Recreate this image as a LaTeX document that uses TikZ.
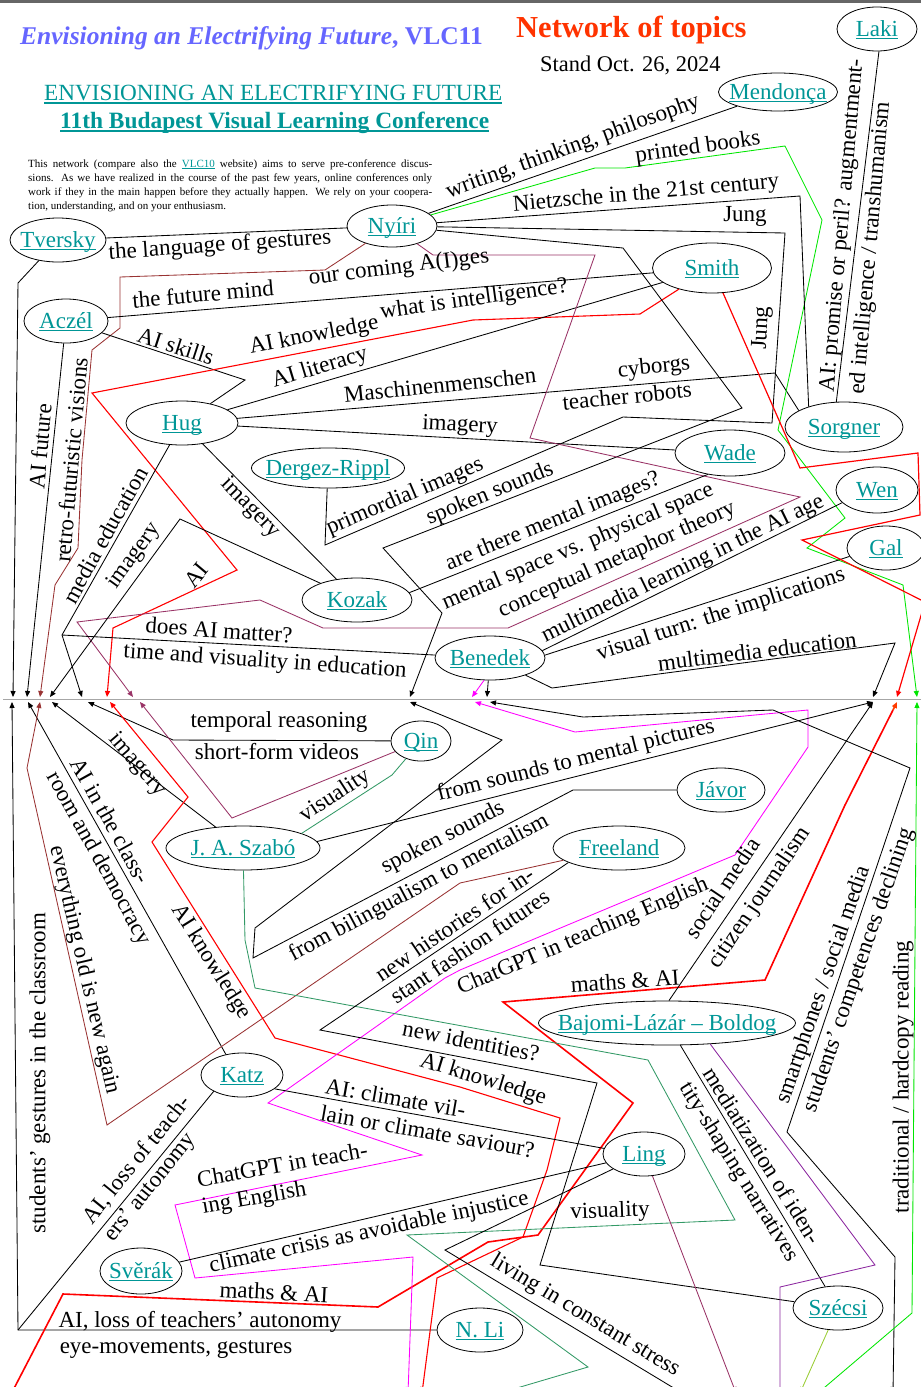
\documentclass[tikz,border=0pt]{standalone}
\usepackage{fontspec}
\setmainfont{Liberation Serif}
\usetikzlibrary{shapes.geometric,arrows.meta}
\definecolor{tealc}{RGB}{0,150,150}
\definecolor{titleblue}{RGB}{102,102,255}
\definecolor{titlered}{RGB}{255,51,0}
\definecolor{brownc}{RGB}{153,51,51}
\definecolor{plumc}{RGB}{153,51,102}
\definecolor{dgreenc}{RGB}{51,153,102}
\definecolor{greenc}{RGB}{0,230,0}
\definecolor{magc}{RGB}{255,0,255}
\definecolor{purpc}{RGB}{140,40,160}
\definecolor{ygreenc}{RGB}{153,204,51}
\definecolor{orangec}{RGB}{255,60,0}
\newcommand\myul[1]{\setbox0\hbox{#1}\rlap{\rule[-2.8pt]{\wd0}{1.6pt}}\box0}
\newcommand\hdul[1]{\setbox0\hbox{#1}\rlap{\rule[-4pt]{\wd0}{2.4pt}}\box0}
\newcommand\smul[1]{\setbox0\hbox{#1}\rlap{\rule[-1.5pt]{\wd0}{0.8pt}}\box0}
\newcommand\nm[1]{\smash{\makebox[0pt]{\raisebox{-7.5pt}{\myul{#1}}}}}
\tikzset{
 person/.style={ellipse, draw=black, line width=0.8pt, inner sep=0pt, text=tealc, font=\fontsize{23}{26}\selectfont},
 lab/.style={inner sep=0pt, font=\fontsize{23}{27}\selectfont, align=left},
 ln/.style={line width=0.85pt},
 tip/.style={-{Triangle[length=6pt,width=5pt]}},
 tipb/.style={{Triangle[length=6pt,width=5pt]}-{Triangle[length=6pt,width=5pt]}},
 para/.style={anchor=base west, inner sep=0pt, font=\fontsize{11}{14}\selectfont},
}
\begin{document}
\begin{tikzpicture}[x=1pt,y=-1pt]
\useasboundingbox (0,0) rectangle (921,1387);
\fill[black!60] (0,0) rectangle (921,3);
\draw[black!35, line width=0.8pt] (3,699) -- (921,699);

% ---------- header ----------
\node[anchor=base west, inner sep=0pt, text=titleblue, font=\fontsize{25.5}{28}\selectfont\bfseries] (t1) at (20,44) {\textit{Envisioning an Electrifying Future}, VLC11};
\node[anchor=base west, inner sep=0pt, text=titlered, font=\fontsize{30.5}{32}\selectfont\bfseries] (t2) at (516,37) {Network of topics};
\node[anchor=base west, inner sep=0pt, font=\fontsize{22.4}{24}\selectfont] (t3) at (540,71) {Stand Oct. 26, 2024};
\node[anchor=base west, inner sep=0pt, text=tealc, font=\fontsize{23.2}{24}\selectfont] (t4) at (44,100) {\hdul{ENVISIONING AN ELECTRIFYING FUTURE}};
\node[anchor=base west, inner sep=0pt, text=tealc, font=\fontsize{23.4}{24}\selectfont\bfseries] (t5) at (60,128) {\hdul{11th Budapest Visual Learning Conference}};
\node[para] (p1) at (28,167) {\makebox[404pt][s]{This network (compare also the {\color{tealc}\smul{VLC10}} website) aims to serve pre-conference discus-}};
\node[para] (p2) at (28,181) {\makebox[404pt][s]{sions. As we have realized in the course of the past few years, online conferences only}};
\node[para] (p3) at (28,195) {\makebox[404pt][s]{work if they in the main happen before they actually happen. We rely on your coopera-}};
\node[para] (p4) at (28,209) {tion, understanding, and on your enthusiasm.};

% ---------- persons ----------
\node[person, minimum width=96pt, minimum height=44pt] (tversky) at (58,240) {\nm{Tversky}};
\node[person, minimum width=90pt, minimum height=42pt] (nyiri) at (392,226) {\nm{Nyíri}};
\node[person, minimum width=80pt, minimum height=44pt] (laki) at (877,29) {\nm{Laki}};
\node[person, minimum width=119pt, minimum height=38pt] (mendonca) at (778,92) {\nm{Mendonça}};
\node[person, minimum width=119pt, minimum height=50pt] (smith) at (712,268) {\nm{Smith}};
\node[person, minimum width=84pt, minimum height=44pt] (aczel) at (66,321) {\nm{Aczél}};
\node[person, minimum width=112pt, minimum height=44pt] (hug) at (182,423) {\nm{Hug}};
\node[person, minimum width=118pt, minimum height=50pt] (sorgner) at (844,427) {\nm{Sorgner}};
\node[person, minimum width=110pt, minimum height=46pt] (wade) at (730,453) {\nm{Wade}};
\node[person, minimum width=153pt, minimum height=40pt] (dergez) at (328,468) {\nm{Dergez-Rippl}};
\node[person, minimum width=82pt, minimum height=46pt] (wen) at (877,490) {\nm{Wen}};
\node[person, minimum width=78pt, minimum height=44pt] (gal) at (886,548) {\nm{Gal}};
\node[person, minimum width=110pt, minimum height=44pt] (kozak) at (357,600) {\nm{Kozak}};
\node[person, minimum width=110pt, minimum height=44pt] (benedek) at (490,658) {\nm{Benedek}};
\node[person, minimum width=60pt, minimum height=40pt] (qin) at (421,741) {\nm{Qin}};
\node[person, minimum width=154pt, minimum height=44pt] (szabo) at (243,848) {\nm{J. A. Szabó}};
\node[person, minimum width=88pt, minimum height=44pt] (javor) at (721,790) {\nm{Jávor}};
\node[person, minimum width=132pt, minimum height=44pt] (freeland) at (619,848) {\nm{Freeland}};
\node[person, minimum width=257pt, minimum height=44pt] (bajomi) at (667,1023) {\nm{Bajomi-Lázár – Boldog}};
\node[person, minimum width=82pt, minimum height=44pt] (katz) at (242,1075) {\nm{Katz}};
\node[person, minimum width=82pt, minimum height=44pt] (ling) at (644,1154) {\nm{Ling}};
\node[person, minimum width=82pt, minimum height=46pt] (sverak) at (141,1271) {\nm{Svěrák}};
\node[person, minimum width=86pt, minimum height=44pt] (nli) at (480,1330) {\nm{N. Li}};
\node[person, minimum width=90pt, minimum height=44pt] (szecsi) at (838,1308) {\nm{Szécsi}};

% ---------- upper connectors ----------
\draw[ln] (tversky) -- (nyiri);
\draw[ln,tip] (tversky) -- (18,283) -- (13,697);
\draw[ln,tip] (aczel) -- (27,697);
\draw[ln,brownc,tip] (nyiri) -- (325,270) -- (120,277) -- (120,328) -- (92,350) -- (82,460) -- (78,548) -- (55,585) -- (40,697);
\draw[ln] (aczel) -- (smith);
\draw[ln] (aczel) -- (245,380) -- (hug);
\draw[ln,red,line width=1.1pt,tip] (smith) -- (640,314) -- (473,320) -- (92,393) -- (237,570) -- (113,628) -- (107,697);
\draw[ln] (hug) -- (smith);
\draw[ln] (hug) -- (775,373) -- (sorgner.160);
\draw[ln] (hug) -- (wade);
\draw[ln] (nyiri) -- (mendonca);
\draw[ln,greenc,tip] (nyiri) -- (595,168) -- (625,168) -- (785,146) -- (822,220) -- (778,430) -- (845,518) -- (807,548) -- (903,585) -- (917,697);
\draw[ln] (nyiri) -- (800,196) -- (sorgner.150);
\draw[ln] (nyiri) -- (785,233) -- (772,423) -- (623,417) -- (325,545) -- (dergez);
\draw[ln,tip] (nyiri) -- (623,248) -- (742,408) -- (383,548) -- (442,613) -- (410,697);
\draw[ln,plumc,tip] (nyiri) -- (433,255) -- (595,255) -- (530,438) -- (800,497) -- (508,628) -- (323,628) -- (260,600) -- (77,622) -- (133,697);
\draw[ln,tip] (hug) -- (62,635) -- (82,697);
\draw[ln] (benedek) -- (62,635);
\draw[ln] (hug) -- (kozak);
\draw[ln,tip] (kozak) -- (180,519) -- (50,697);
\draw[ln] (kozak.8) -- (wade.224);
\draw[ln] (benedek.8) -- (wen.200);
\draw[ln] (benedek.3) -- (gal.193);
\draw[ln,tip] (benedek) -- (552,688) -- (895,643) -- (873,697);
\draw[ln,tip] (benedek) -- (487,697);
\draw[ln,magc,tip] (benedek.255) -- (472,697);
\draw[ln,red,line width=1.2pt,tip] (smith) -- (800,468) -- (918,453) -- (920,515) -- (802,540) -- (925,602) -- (897,697);
\draw[ln] (laki.-85) -- (sorgner.107);

% ---------- lower connectors ----------
\draw[ln,tip] (nli) -- (18,1330) -- (12,702);
\draw[ln] (katz.210) -- (18,1330);
\draw[ln,tip] (katz.128) -- (28,702);
\draw[ln,brownc,tip] (freeland) -- (460,883) -- (107,1125) -- (27,768) -- (40,702);
\draw[ln,tip] (szabo) -- (52,702);
\draw[ln,tip] (qin) -- (173,740) -- (88,702);
\draw[ln,red,line width=1.1pt,tipb] (422,1393) -- (437,1278) -- (523,1237) -- (547,1170) -- (560,1118) -- (460,1087) -- (275,1038) -- (152,842) -- (188,797) -- (110,702);
\draw[ln,red,line width=1.6pt] (8,1400) -- (63,1294) -- (378,1307) -- (488,1242) -- (538,1235) -- (633,1103) -- (503,1002) -- (765,980) -- (845,805) -- (893,710);
\draw[ln,orangec,line width=1.6pt,tip] (893,710) -- (897,702);
\draw[ln,magc,tipb] (408,1393) -- (413,1257) -- (195,1278) -- (175,1205) -- (422,1155) -- (268,1103) -- (445,978) -- (460,970) -- (735,855) -- (808,747) -- (808,710) -- (575,732) -- (475,702);
\draw[ln,tipb] (893,1393) -- (895,1257) -- (787,1132) -- (910,768) -- (773,710) -- (583,717) -- (490,702);
\draw[ln,tip] (javor) -- (573,790) -- (253,958) -- (255,928) -- (502,740) -- (410,702);
\draw[ln,tip] (szabo.5) -- (873,702);
\draw[ln,tip] (bajomi.85) -- (873,702);
\draw[ln,greenc,tipb] (818,1393) -- (912,1313) -- (917,702);
\draw[ln,dgreenc] (szabo) -- (245,940) -- (255,988) -- (648,1060) -- (735,1220) -- (407,1235) -- (588,1367) -- (500,1393);
\draw[ln,plumc,tip] (qin) -- (232,818) -- (140,702);
\draw[ln,dgreenc] (qin) -- (392,775) -- (szabo.14);
\draw[ln] (freeland.196) -- (320,1030) -- (597,1083) -- (540,1265) -- (szecsi);
\draw[ln] (katz.-23) -- (ling.172);
\draw[ln] (sverak) -- (ling);
\draw[ln,tip] (ling) -- (445,1250) -- (682,1393);
\draw[ln,plumc,tip] (ling) -- (736,1393);
\draw[ln] (bajomi) -- (szecsi);
\draw[ln,purpc,tip] (bajomi.-26) -- (875,1265) -- (780,1287) -- (780,1393);
\draw[ln,ygreenc,tip] (szecsi) -- (800,1393);

% ---------- upper labels ----------
\node[lab,rotate=4] (l1) at (220,246) {the language of gestures};
\node[lab,rotate=20] (l2) at (573,147) {writing, thinking, philosophy};
\node[lab,rotate=8] (l3) at (698,148) {printed books};
\node[lab,rotate=5] (l4) at (646,194) {Nietzsche in the 21st century};
\node[lab] (l5) at (745,216) {Jung};
\node[lab,rotate=5] (l6) at (203,294) {the future mind};
\node[lab,rotate=7] (l7) at (399,268) {our coming A(I)ges};
\node[lab,rotate=8] (l8) at (474,300) {what is intelligence?};
\node[lab,rotate=11] (l9) at (314,336) {AI knowledge};
\node[lab,rotate=-18] (l10) at (176,346) {AI skills};
\node[lab,rotate=17] (l11) at (320,368) {AI literacy};
\node[lab,rotate=6] (l12) at (440,385) {Maschinenmenschen};
\node[lab,rotate=6] (l13) at (654,368) {cyborgs};
\node[lab,rotate=6] (l14) at (627,396) {teacher robots};
\node[lab,rotate=-3] (l15) at (460,426) {imagery};
\node[lab,rotate=87] (l16) at (762,328) {Jung};
\node[lab,rotate=85,anchor=west] (l17) at (828,392) {AI: promise or peril? augmentment-};
\node[lab,rotate=85,anchor=west] (l18) at (858,394) {ed intelligence / transhumanism};
\node[lab,rotate=85] (l19) at (71,460) {retro-futuristic visions};
\node[lab,rotate=85] (l20) at (40,446) {AI future};
\node[lab,rotate=61] (l21) at (105,535) {media education};
\node[lab,rotate=54] (l22) at (134,556) {imagery};
\node[lab,rotate=50] (l23) at (196,575) {AI};
\node[lab,rotate=-46] (l24) at (250,508) {imagery};
\node[lab,rotate=23] (l25) at (405,497) {primordial images};
\node[lab,rotate=22] (l26) at (490,494) {spoken sounds};
\node[lab,rotate=22] (l27) at (553,522) {are there mental images?};
\node[lab,rotate=23] (l28) at (578,547) {mental space vs. physical space};
\node[lab,rotate=24] (l29) at (617,560) {conceptual metaphor theory};
\node[lab,rotate=26] (l30) at (683,569) {multimedia learning in the AI age};
\node[lab,rotate=18] (l31) at (721,615) {visual turn: the implications};
\node[lab,rotate=7] (l32) at (757,651) {multimedia education};
\node[lab,rotate=-4] (l33) at (219,630) {does AI matter?};
\node[lab,rotate=-4] (l34) at (265,662) {time and visuality in education};

% ---------- lower labels ----------
\node[lab] (m1) at (279,722) {temporal reasoning};
\node[lab] (m2) at (277,752) {short-form videos};
\node[lab,rotate=-49] (m3) at (137,765) {imagery};
\node[lab,rotate=33] (m4) at (335,796) {visuality};
\node[lab,rotate=14] (m5) at (576,761) {from sounds to mental pictures};
\node[lab,rotate=27] (m6) at (443,838) {spoken sounds};
\node[lab,rotate=28] (m7) at (419,888) {from bilingualism to mentalism};
\node[lab,rotate=34] (m8) at (462,935) {new histories for in-\\stant fashion futures};
\node[lab,rotate=23] (m9) at (583,937) {ChatGPT in teaching English};
\node[lab,rotate=56] (m10) at (722,888) {social media};
\node[lab,rotate=56] (m11) at (760,898) {citizen journalism};
\node[lab,rotate=71] (m12) at (824,985) {smartphones / social media};
\node[lab,rotate=71] (m13) at (859,970) {students’ competences declining};
\node[lab,rotate=90] (m14) at (903,1077) {traditional / hardcopy reading};
\node[lab,rotate=4] (m15) at (625,981) {maths \& AI};
\node[lab,rotate=-11] (m16) at (471,1041) {new identities?};
\node[lab,rotate=-17] (m17) at (483,1080) {AI knowledge};
\node[lab,rotate=-10] (m18) at (430,1118) {AI: climate vil-\\lain or climate saviour?};
\node[lab,rotate=10] (m19) at (285,1180) {ChatGPT in teach-\\ing English};
\node[lab,rotate=12] (m20) at (369,1233) {climate crisis as avoidable injustice};
\node[lab,rotate=2] (m21) at (610,1212) {visuality};
\node[lab,rotate=-31] (m22) at (585,1316) {living in constant stress};
\node[lab,rotate=-58] (m23) at (750,1165) {mediatization of iden-\\tity-shaping narratives};
\node[lab,rotate=51] (m24) at (148,1169) {AI, loss of teach-\\ers’ autonomy};
\node[lab,rotate=90] (m25) at (40,1073) {students’ gestures in the classroom};
\node[lab,rotate=-77] (m26) at (84,970) {everything old is new again};
\node[lab,rotate=-61] (m27) at (110,852) {AI in the class-\\room and democracy};
\node[lab,rotate=-58] (m28) at (211,962) {AI knowledge};
\node[lab] (m29) at (200,1322) {AI, loss of teachers’ autonomy};
\node[lab] (m30) at (176,1349) {eye-movements, gestures};
\node[lab,rotate=-3] (m31) at (274,1292) {maths \& AI};
\end{tikzpicture}
\end{document}
